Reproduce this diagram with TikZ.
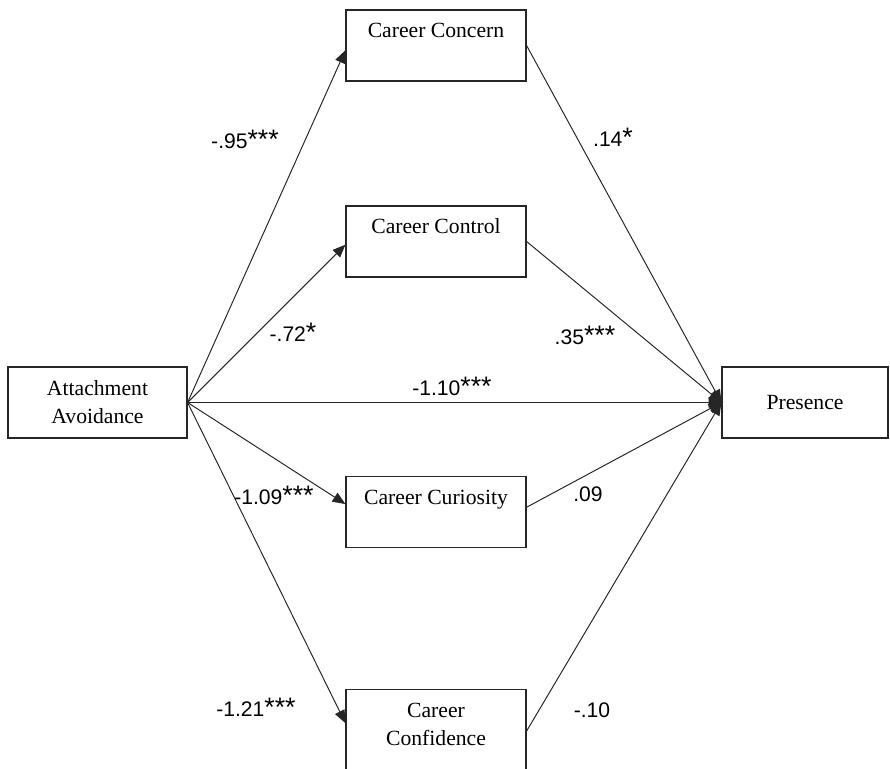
\documentclass[tikz,border=0pt]{standalone}
\usepackage{fontspec}
\setmainfont{Liberation Serif}
\newfontfamily\labfont{Liberation Sans}
\newcommand\sigstars[1]{{\fontsize{19}{19}\selectfont #1}}
\usepackage{tikz}
\usetikzlibrary{positioning, arrows.meta}

\begin{document}
\begin{tikzpicture}[x=0.025cm, y=-0.025cm,
    box/.style={draw=black!85, line width=0.8pt, minimum width=4.5cm, inner xsep=0pt, inner ysep=0.25cm,
      font=\fontsize{15.4}{19.9}\selectfont, align=center},
    topbox/.style={box, text height=0.45cm, text depth=0.825cm},
    arr/.style={draw=black!85, line width=0.7pt, -{Triangle[length=3.2mm, width=2.6mm]}},
    coef/.style={font=\labfont\fontsize{15}{18}\selectfont}]
    \useasboundingbox (0,0) rectangle (890,769);
    \node[box, minimum width=4.475cm, minimum height=1.775cm] (att) at (97.5,402.5) {Attachment\\Avoidance};
    \node[box, minimum width=4.15cm, minimum height=1.775cm] (pres) at (805,402.5) {Presence};
    \node[topbox] (concern) at (436,45.5) {Career Concern};
    \node[topbox] (control) at (436,241.5) {Career Control};
    \node[topbox] (curiosity) at (436,512) {Career Curiosity};
    \node[box, anchor=north, text height=1.15cm, text depth=0.425cm] (confidence) at (436,689) {Career\\Confidence};
    \draw[arr] (att.east) -- (concern.183);
    \draw[arr] (att.east) -- (control.182);
    \draw[arr] (att.east) -- (pres.west);
    \draw[arr] (att.east) -- (curiosity.175);
    \draw[arr] (att.east) -- (confidence.175);
    \draw[arr] (concern.east) -- (pres.west);
    \draw[arr] (control.east) -- (pres.west);
    \draw[arr] (curiosity.3) -- (pres.west);
    \draw[arr] (confidence.east) -- (pres.west);
    \node[coef] (c1) at (245,139) {-.95\sigstars{***}};
    \node[coef] (c2) at (613,137) {.14\sigstars{*}};
    \node[coef] (c3) at (293,332) {-.72\sigstars{*}};
    \node[coef] (c4) at (585,335) {.35\sigstars{***}};
    \node[coef] (c5) at (452,386) {-1.10\sigstars{***}};
    \node[coef] (c6) at (274,495) {-1.09\sigstars{***}};
    \node[coef] (c7) at (588,494) {.09};
    \node[coef] (c8) at (256,707) {-1.21\sigstars{***}};
    \node[coef] (c9) at (592,710) {-.10};
\end{tikzpicture}
\end{document}
